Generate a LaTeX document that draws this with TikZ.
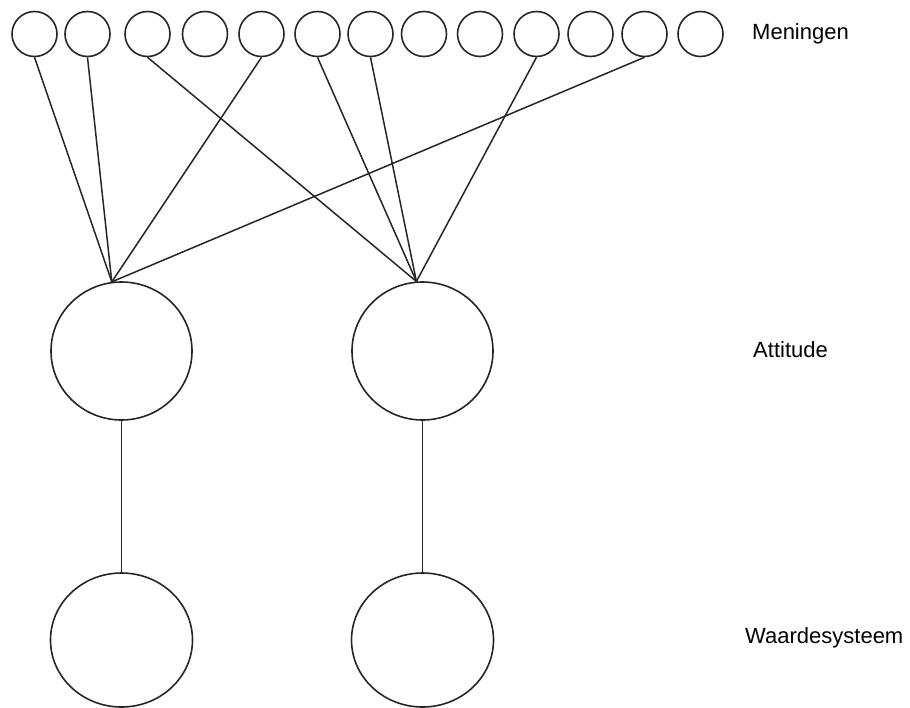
\documentclass[tikz,border=0pt]{standalone}
\usepackage{fontspec}
\setmainfont{Liberation Sans}
\usetikzlibrary{shapes.geometric}
\begin{document}
\begin{tikzpicture}[x=1pt,y=-1pt,
  small/.style={circle,draw=black!85,line width=1.6pt,minimum size=45pt,inner sep=0pt},
  big/.style={ellipse,draw=black!85,line width=1.6pt,minimum width=141pt,minimum height=138pt,inner sep=0pt},
  bigb/.style={ellipse,draw=black!85,line width=1.6pt,minimum width=142pt,minimum height=134pt,inner sep=0pt},
  link/.style={draw=black!85,line width=1.5pt},
  lbl/.style={anchor=west,font=\fontsize{22}{26}\selectfont,inner sep=0pt}]
\useasboundingbox (0,0) rectangle (910,707);
\foreach \i/\x in {1/34.5,2/87.5,3/147.5,4/205,5/261.5,6/317.5,7/370.5,8/424,9/480,10/536.5,11/590.5,12/644.5,13/700.5}
  \node[small] (m\i) at (\x,34) {};
\node[big] (a1) at (121.5,351) {};
\node[big] (a2) at (422.5,351) {};
\node[bigb] (w1) at (121.5,640) {};
\node[bigb] (w2) at (422.5,640) {};
\coordinate (p1) at (a1.98);
\coordinate (p2) at (a2.95);
\foreach \i in {1,2,5,12} \draw[link] (m\i.south) -- (p1);
\foreach \i in {3,6,7,10} \draw[link] (m\i.south) -- (p2);
\draw[link] (a1.south) -- (w1.north);
\draw[link] (a2.south) -- (w2.north);
\node[lbl] (t1) at (752,34) {Meningen};
\node[lbl] (t2) at (753,350) {Attitude};
\node[lbl] (t3) at (745,638) {Waardesysteem};
\end{tikzpicture}
\end{document}
